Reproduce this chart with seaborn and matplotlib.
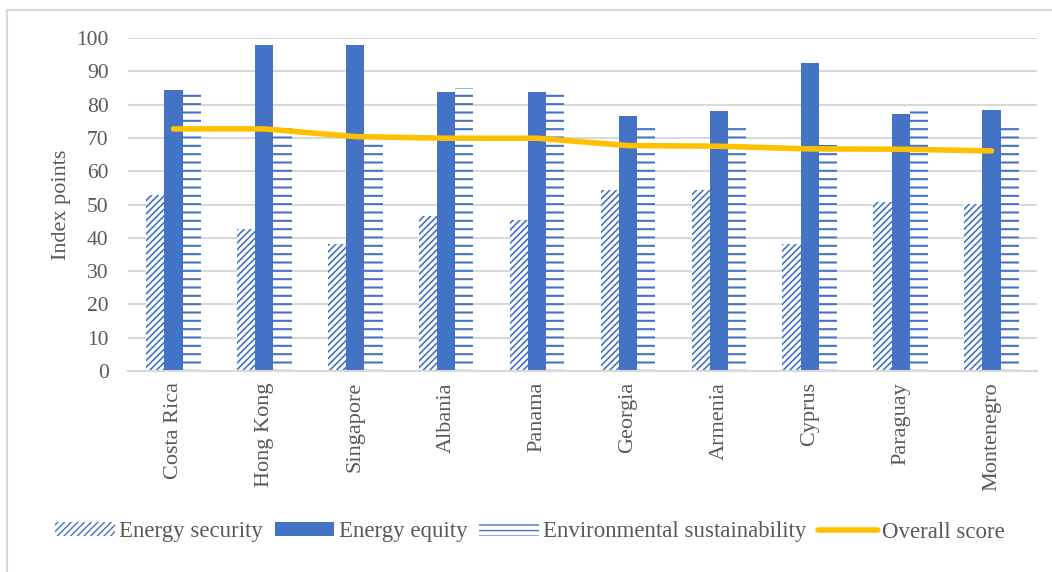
import pandas as pd
import matplotlib.pyplot as plt
import seaborn as sns
from matplotlib.patches import Patch, Rectangle
from matplotlib.lines import Line2D

# Values
countries = ["Costa Rica", "Hong Kong", "Singapore", "Albania", "Panama",
             "Georgia", "Armenia", "Cyprus", "Paraguay", "Montenegro"]
energy_security = [53.0, 42.6, 38.0, 46.5, 45.2, 54.4, 54.4, 38.0, 50.8, 50.3]
energy_equity = [84.4, 97.9, 97.9, 83.8, 83.9, 76.5, 78.2, 92.4, 77.2, 78.3]
env_sustainability = [84.8, 73.0, 69.0, 85.0, 84.8, 73.0, 73.0, 68.0, 78.0, 73.0]
overall_score = [72.7, 72.7, 70.4, 69.9, 69.9, 67.7, 67.5, 66.7, 66.6, 66.1]

components = ["Energy security", "Energy equity", "Environmental sustainability"]

blue = "#4472C4"
gold = "#FFC000"
grey_text = "#595959"
grid_grey = "#d9d9d9"

df = pd.DataFrame({"Country": countries,
                   "Energy security": energy_security,
                   "Energy equity": energy_equity,
                   "Environmental sustainability": env_sustainability,
                   "Overall score": overall_score})
long_df = df.melt(id_vars="Country", value_vars=components,
                  var_name="Component", value_name="Value")

sns.set_style("white")
plt.rcParams['font.family'] = ['Liberation Serif', 'DejaVu Serif']
plt.rcParams['hatch.linewidth'] = 1.0


def hatch_width(patch, lw):
    # per-patch hatch width where matplotlib supports it
    if hasattr(patch, "set_hatch_linewidth"):
        patch.set_hatch_linewidth(lw)


fig = plt.figure(figsize=(10.52, 5.72), dpi=100)
ax = fig.add_axes([128 / 1052, 1 - 371 / 572, (1037 - 128) / 1052, (371 - 38) / 572])

sns.barplot(data=long_df, x="Country", y="Value", hue="Component",
            order=countries, hue_order=components,
            palette=[blue, blue, blue], width=0.6, gap=0,
            legend=False, ax=ax)

# hatch style per series: (hatch, face, hatch line width)
styles = [("/////", "white", 1.2), (None, blue, 1.0), ("--", "white", 1.5)]
for cont, (hatch, face, hlw) in zip(ax.containers, styles):
    for bar in cont:
        bar.set_facecolor(face)
        bar.set_edgecolor(blue)
        bar.set_linewidth(0)
        if hatch:
            bar.set_hatch(hatch)
            hatch_width(bar, hlw)

sns.pointplot(data=df, x="Country", y="Overall score", order=countries,
              color=gold, marker="", linewidth=4, errorbar=None, ax=ax)

ax.set_ylim(0, 100)
ax.set_xlim(-0.5, len(countries) - 0.5)
ax.set_yticks(range(0, 101, 10))
ax.yaxis.grid(True, color=grid_grey, linewidth=1.5)
ax.set_axisbelow(True)
for s in ["top", "right", "left"]:
    ax.spines[s].set_visible(False)
ax.spines["bottom"].set_color(grid_grey)
ax.spines["bottom"].set_linewidth(1.5)
ax.tick_params(axis="y", length=0, labelsize=15.5, colors=grey_text, pad=14)
ax.tick_params(axis="x", length=0, labelsize=16, colors=grey_text, pad=8)
plt.setp(ax.get_xticklabels(), rotation=90)
ax.set_xlabel("")
ax.set_ylabel("Index points", fontsize=16, color=grey_text, labelpad=4)

handles = [Patch(facecolor="white", edgecolor=blue, linewidth=0, hatch="/////"),
           Patch(facecolor=blue, edgecolor=blue, linewidth=0),
           Patch(facecolor="white", edgecolor=blue, linewidth=0, hatch="---"),
           Line2D([], [], color=gold, linewidth=4)]
hatch_width(handles[0], 1.2)
hatch_width(handles[2], 1.5)
leg = fig.legend(handles, components + ["Overall score"], loc="center",
                 bbox_to_anchor=(530 / 1052, 1 - 532 / 572), ncol=4, frameon=False,
                 fontsize=16.5, handlelength=2.6, handleheight=0.55,
                 handletextpad=0.2, columnspacing=0.5, borderpad=0)
for t in leg.get_texts():
    t.set_color(grey_text)

# light outer frame of the chart area
fig.patches.append(Rectangle((7 / 1052, -0.5), 2, 0.5 + 1 - 10 / 572,
                             transform=fig.transFigure, fill=False,
                             edgecolor=grid_grey, linewidth=1.5))

fig.savefig("out.png", dpi=100)
